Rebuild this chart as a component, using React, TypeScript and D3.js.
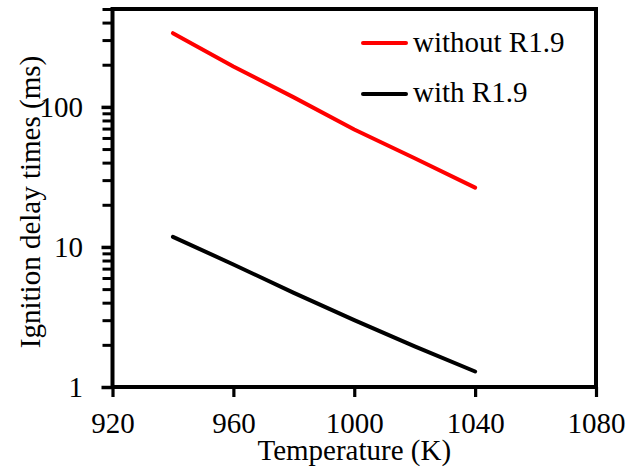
import React, { useEffect, useRef } from "react";
import * as d3 from "d3";

const temperatures = [940, 960, 980, 1000, 1020, 1040];
const withoutR19 = [336, 194, 117, 69, 43, 26.5];
const withR19 = [11.8, 7.5, 4.7, 3.0, 1.95, 1.29];
const xTicks = [920, 960, 1000, 1040, 1080];
const yTicks = [1, 10, 100];
const seriesNames = ["without R1.9", "with R1.9"];
const seriesColors = ["#ff0000", "#000000"];

const W = 628;
const H = 470;
const left = 112.5;
const right = 596;
const top = 9;
const bottom = 387;
const FONT = "Liberation Serif";

export default function App() {
  const ref = useRef<SVGSVGElement>(null);

  useEffect(() => {
    const svg = d3.select(ref.current);
    svg.selectAll("*").remove();

    const x = d3.scaleLinear().domain([920, 1080]).range([left, right]);
    const y = d3.scaleLog().domain([1, 500]).range([bottom, top]);

    const minor: number[] = [];
    for (const dec of [1, 10, 100]) {
      for (let k = 2; k <= 9; k++) {
        const v = dec * k;
        if (v <= 500) minor.push(v);
      }
    }

    svg.append("rect").attr("width", W).attr("height", H).attr("fill", "#fff");

    const line = d3
      .line<[number, number]>()
      .x((d) => x(d[0]))
      .y((d) => y(d[1]));

    [withoutR19, withR19].forEach((vals, i) => {
      svg
        .append("path")
        .attr("d", line(temperatures.map((t, j) => [t, vals[j]] as [number, number])))
        .attr("fill", "none")
        .attr("stroke", seriesColors[i])
        .attr("stroke-width", 4)
        .attr("stroke-linejoin", "round")
        .attr("stroke-linecap", "round");
    });

    // minor y ticks
    const yMinor = d3
      .axisLeft(y)
      .tickValues(minor)
      .tickSize(10)
      .tickFormat(() => "");
    const gm = svg.append("g").attr("transform", `translate(${left},0)`).call(yMinor);
    gm.select(".domain").remove();
    gm.selectAll(".tick line").attr("stroke", "#000").attr("stroke-width", 3);

    // major y ticks
    const yAxis = d3
      .axisLeft(y)
      .tickValues(yTicks)
      .tickSize(11)
      .tickPadding(18)
      .tickFormat((d) => String(d));
    const gy = svg.append("g").attr("transform", `translate(${left},0)`).call(yAxis);
    gy.select(".domain").remove();
    gy.selectAll(".tick line").attr("stroke", "#000").attr("stroke-width", 3.5);
    gy.selectAll(".tick text")
      .attr("font-family", FONT)
      .attr("font-size", 29)
      .attr("fill", "#000")
      .attr("x", 83 - left)
      .attr("dy", "0.34em");

    // x ticks
    const xAxis = d3
      .axisBottom(x)
      .tickValues(xTicks)
      .tickSize(10)
      .tickFormat((d) => String(d));
    const gx = svg.append("g").attr("transform", `translate(0,${bottom})`).call(xAxis);
    gx.select(".domain").remove();
    gx.selectAll(".tick line").attr("stroke", "#000").attr("stroke-width", 3.2);
    gx.selectAll(".tick text")
      .attr("font-family", FONT)
      .attr("font-size", 29)
      .attr("fill", "#000")
      .attr("y", 433 - bottom)
      .attr("dy", 0);

    // frame
    svg
      .append("rect")
      .attr("x", left)
      .attr("y", top)
      .attr("width", right - left)
      .attr("height", bottom - top)
      .attr("fill", "none")
      .attr("stroke", "#000")
      .attr("stroke-width", 4);

    svg
      .append("text")
      .attr("x", (left + right) / 2)
      .attr("y", 460)
      .attr("text-anchor", "middle")
      .attr("font-family", FONT)
      .attr("font-size", 29)
      .attr("fill", "#000")
      .text("Temperature (K)");

    svg
      .append("text")
      .attr("transform", "translate(40,202) rotate(-90)")
      .attr("text-anchor", "middle")
      .attr("font-family", FONT)
      .attr("font-size", 29)
      .attr("fill", "#000")
      .text("Ignition delay times (ms)");

    seriesNames.forEach((name, i) => {
      svg
        .append("line")
        .attr("x1", 363)
        .attr("x2", 406)
        .attr("y1", 43 + i * 51)
        .attr("y2", 43 + i * 51)
        .attr("stroke", seriesColors[i])
        .attr("stroke-width", 4)
        .attr("stroke-linecap", "round");
      svg
        .append("text")
        .attr("x", 413)
        .attr("y", 52 + i * 50)
        .attr("font-family", FONT)
        .attr("font-size", 29)
        .attr("fill", "#000")
        .text(name);
    });
  }, []);

  return (
    <svg
      ref={ref}
      width={W}
      height={H}
      style={{ position: "absolute", left: 0, top: 0, background: "#fff" }}
    />
  );
}
